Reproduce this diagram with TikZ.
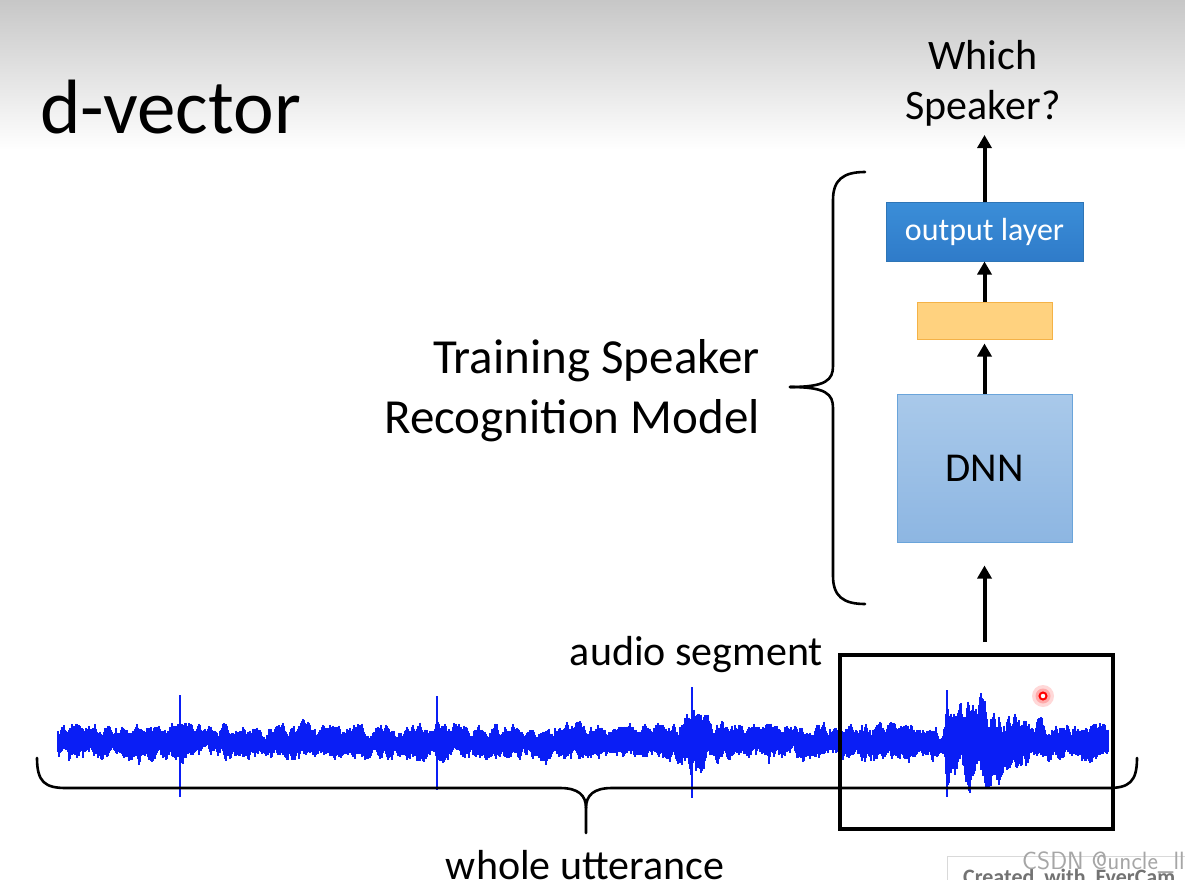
\documentclass[tikz,border=0pt]{standalone}
\usepackage{fontspec}
\setmainfont{Carlito}
\usetikzlibrary{arrows.meta}
\definecolor{wblue}{HTML}{0A1EF5}
\definecolor{outfill}{HTML}{3B8ED8}
\definecolor{outfillb}{HTML}{2F7BC9}
\definecolor{outline}{HTML}{2E75B6}
\definecolor{orfill}{HTML}{FFD27F}
\definecolor{orline}{HTML}{F4B247}
\definecolor{dnntop}{HTML}{A9C9EA}
\definecolor{dnnbot}{HTML}{8DB6E2}
\definecolor{dnnline}{HTML}{6AA4DA}
\tikzset{
  arr/.style={line width=4pt,-{Triangle[width=14pt,length=13pt]}},
  brace/.style={line width=2.6pt,line cap=round},
  wave/.style={wblue,line width=1.25pt},
  big/.style={font=\fontsize{42}{48}\selectfont},
}
\begin{document}
\begin{tikzpicture}[x=1pt,y=-1pt]
\useasboundingbox (0,0) rectangle (1185,880);
\fill[white] (0,0) rectangle (1185,880);
\shade[top color=black!22,bottom color=white] (0,0) rectangle (1185,150);

% title
\node[anchor=base west,inner sep=0,font=\fontsize{77}{82}\selectfont] (title) at (40,133) {d-vector};

% waveform
\pgfmathsetseed{2718}
\xdef\sa{0.5}\xdef\sb{0.5}
\foreach \x in {58,...,1108}{
  \pgfmathsetmacro{\env}{14 + 12*exp(max(-20,-((\x-692)/20)^2)) + (\x>945)*22*exp(max(-20,-((\x-978)/45)^2)) + 4*exp(max(-20,-((\x-182)/8)^2)) + 4*exp(max(-20,-((\x-440)/8)^2))}
  \pgfmathsetmacro{\nsa}{0.75*\sa+0.25*rnd}
  \pgfmathsetmacro{\nsb}{0.75*\sb+0.25*rnd}
  \xdef\sa{\nsa}\xdef\sb{\nsb}
  \pgfmathsetmacro{\a}{\env*(0.82+2.4*(\sa-0.5)) + 2*rnd + (rnd>0.95)*5*rnd}
  \pgfmathsetmacro{\b}{\env*(0.82+2.4*(\sb-0.5)) + 2*rnd + (rnd>0.95)*5*rnd}
  \draw[wave] (\x,{742-\a}) -- (\x,{742+\b});
}
\draw[wave,line width=1.5pt] (180,695) -- (180,797);
\draw[wave,line width=1.5pt] (437,696) -- (437,790);
\draw[wave,line width=1.5pt] (692,687) -- (692,798);
\draw[wave,line width=1.5pt] (947,690) -- (947,797);

% red pointer
\fill[red!25,opacity=0.6] (1043,696) circle (11);
\fill[red!45,opacity=0.6] (1043,696) circle (7.5);
\draw[red,line width=2pt,fill=white] (1043,696) circle (3.5);

% bottom brace
\draw[brace] (37,758) .. controls (37,782) and (45,788) .. (66,788) -- (560,788)
  .. controls (578,788) and (586,795) .. (586,808) -- (586,833);
\draw[brace] (1137,758) .. controls (1137,782) and (1129,788) .. (1108,788) -- (612,788)
  .. controls (594,788) and (586,795) .. (586,808);

% segment box
\node[draw,line width=4pt,minimum width=273pt,minimum height=174pt,inner sep=0] (seg) at (976.5,742) {};
\node[big,anchor=base east,inner sep=0] (segl) at (823,665) {audio segment};
\node[big,anchor=base,inner sep=0] (whole) at (585,879) {whole utterance};

% model boxes
\node[draw=outline,line width=1pt,top color=outfill,bottom color=outfillb,minimum width=197pt,minimum height=59pt,inner sep=0,text=white,font=\fontsize{32}{36}\selectfont] (out) at (984.5,231.5) {output layer};
\node[draw=orline,line width=1pt,fill=orfill,minimum width=135pt,minimum height=37pt,inner sep=0] (orange) at (984.5,320.5) {};
\node[draw=dnnline,line width=1pt,top color=dnntop,bottom color=dnnbot,minimum width=175pt,minimum height=148pt,inner sep=0,font=\fontsize{41}{44}\selectfont] (dnn) at (984.5,468) {DNN};

\node[big,align=center,inner sep=0,anchor=base] (q2) at (983,120) {Speaker?};
\node[big,inner sep=0,anchor=base] (q1) at (983,70) {Which};
\coordinate (qin) at (984.5,135);
\coordinate (segtop) at (984.5,642);

\draw[arr] (out.north) -- (qin);
\draw[arr] (orange.north) -- (out.south);
\draw[arr] (dnn.north) -- ([yshift=-4pt]orange.south);
\draw[arr] (segtop) -- ([yshift=-23pt]dnn.south);

% left brace
\draw[brace] (865,172) .. controls (843,172) and (833,180) .. (833,200) -- (833,366)
  .. controls (833,380) and (826,387) .. (790,387);
\draw[brace] (865,604) .. controls (843,604) and (833,596) .. (833,576) -- (833,408)
  .. controls (833,394) and (826,387) .. (790,387);
\node[anchor=base east,inner sep=0,font=\fontsize{49}{54}\selectfont] (t1) at (760,373) {Training Speaker};
\node[anchor=base east,inner sep=0,font=\fontsize{49}{54}\selectfont] (t2) at (760,433) {Recognition Model};

% watermark
\draw[black!15,line width=1pt,fill=white] (947,856) rectangle (1195,890);
\node[anchor=base west,inner sep=0,text=black!55,font=\bfseries\fontsize{22}{24}\selectfont] (wm1) at (963,884) {Created\ \ with\ \ EverCam};
\node[anchor=base west,inner sep=0,text=black!35,font=\sffamily\fontsize{25}{28}\selectfont] (wm2) at (1022,869) {CSDN @uncle\_ll};
\end{tikzpicture}
\end{document}
